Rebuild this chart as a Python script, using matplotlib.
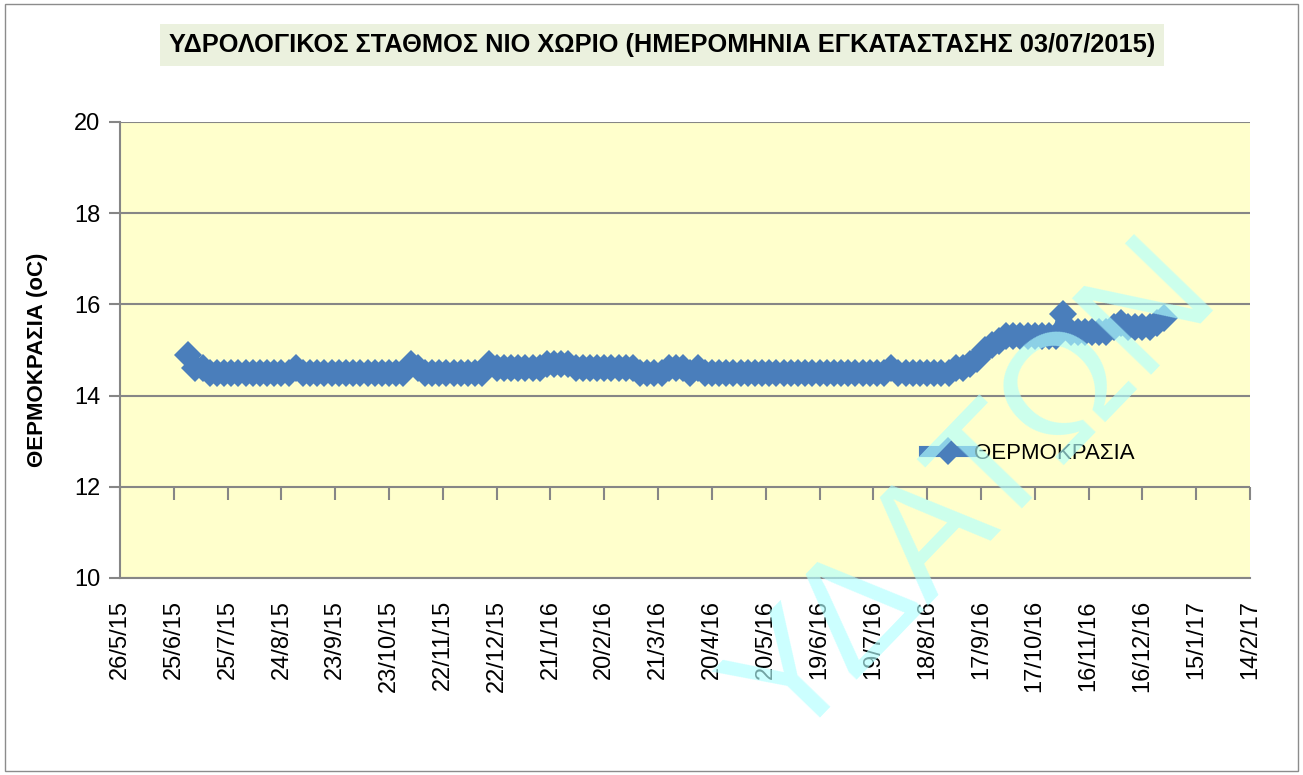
import matplotlib
matplotlib.use('Agg')
import matplotlib.pyplot as plt
import pandas as pd
from matplotlib.patches import Rectangle

plt.rcParams['font.family'] = ['Liberation Sans', 'DejaVu Sans']

# readings every 4 days, starting at the installation date
start_date = '2015-07-03'
step = '4D'
temps = [14.9, 14.6, 14.6,
         14.5, 14.5, 14.5, 14.5, 14.5, 14.5, 14.5, 14.5, 14.5, 14.5, 14.5, 14.5,
         14.6,
         14.5, 14.5, 14.5, 14.5, 14.5, 14.5, 14.5, 14.5, 14.5, 14.5, 14.5, 14.5, 14.5, 14.5, 14.5,
         14.7, 14.6,
         14.5, 14.5, 14.5, 14.5, 14.5, 14.5, 14.5, 14.5, 14.5,
         14.7,
         14.6, 14.6, 14.6, 14.6, 14.6, 14.6, 14.6,
         14.7, 14.7, 14.7, 14.7,
         14.6, 14.6, 14.6, 14.6, 14.6, 14.6, 14.6, 14.6, 14.6,
         14.5, 14.5, 14.5, 14.5,
         14.6, 14.6, 14.6, 14.5, 14.6,
         14.5, 14.5, 14.5, 14.5, 14.5, 14.5, 14.5, 14.5, 14.5, 14.5, 14.5, 14.5, 14.5,
         14.5, 14.5, 14.5, 14.5, 14.5, 14.5, 14.5, 14.5, 14.5, 14.5, 14.5, 14.5, 14.5,
         14.6,
         14.5, 14.5, 14.5, 14.5, 14.5, 14.5, 14.5, 14.5,
         14.6, 14.6, 14.7, 14.8, 15.0, 15.1, 15.2,
         15.3, 15.3, 15.3, 15.3, 15.3, 15.3, 15.3, 15.3,
         15.8,
         15.4, 15.4, 15.4, 15.4, 15.4, 15.4,
         15.5, 15.6, 15.5, 15.5, 15.5, 15.5, 15.6, 15.7]

tick_labels = ['26/5/15', '25/6/15', '25/7/15', '24/8/15', '23/9/15', '23/10/15',
               '22/11/15', '22/12/15', '21/1/16', '20/2/16', '21/3/16', '20/4/16',
               '20/5/16', '19/6/16', '19/7/16', '18/8/16', '17/9/16', '17/10/16',
               '16/11/16', '16/12/16', '15/1/17', '14/2/17']

title = 'ΥΔΡΟΛΟΓΙΚΟΣ ΣΤΑΘΜΟΣ ΝΙΟ ΧΩΡΙΟ (ΗΜΕΡΟΜΗΝΙΑ ΕΓΚΑΤΑΣΤΑΣΗΣ 03/07/2015)'
series_name = 'ΘΕΡΜΟΚΡΑΣΙΑ'
ylabel = 'ΘΕΡΜΟΚΡΑΣΙΑ (oC)'
watermark = 'ΥΔΑΤΩΝ'

dates = pd.date_range(start_date, periods=len(temps), freq=step)
tick_dates = pd.to_datetime(tick_labels, format='%d/%m/%y')

fig = plt.figure(figsize=(13.03, 7.75), dpi=100)
fig.patches.append(Rectangle((0.004, 0.005), 0.992, 0.99, transform=fig.transFigure,
                             fill=False, edgecolor='#8c8c8c', linewidth=1))

ax = fig.add_axes([0.0921, 0.2542, 0.8672, 0.5884])
ax.set_facecolor('#FFFFCC')

ax.plot(dates, temps, color='#4A7EBB', linewidth=8, marker='D', markersize=14,
        markeredgewidth=0, label=series_name, zorder=3)

ax.set_ylim(10, 20)
ax.set_yticks(range(10, 21, 2))
ax.set_xlim(tick_dates[0], tick_dates[-1])
ax.set_xticks(tick_dates)
ax.set_xticklabels(tick_labels, rotation=90)
ax.tick_params(axis='x', length=0, labelsize=17, pad=16)
ax.tick_params(axis='y', length=8, color='#868686', width=1.5, labelsize=17, pad=6)
ax.grid(axis='y', color='#868686', linewidth=1.5)
ax.set_axisbelow(True)
for side in ['top', 'right']:
    ax.spines[side].set_visible(False)
for side in ['left', 'bottom']:
    ax.spines[side].set_color('#868686')
    ax.spines[side].set_linewidth(1.5)

# horizontal axis crosses at 12, tick marks hang from there
sec = ax.secondary_xaxis(0.2)
sec.set_xticks(tick_dates)
sec.tick_params(axis='x', length=9, color='#868686', width=1.5, labelbottom=False, labeltop=False,
                direction='out')
sec.spines['bottom'].set_visible(False)
sec.spines['top'].set_visible(False)

ax.set_ylabel(ylabel, fontsize=16, fontweight='bold')
ax.yaxis.set_label_coords(-0.064, 0.478)

ax.legend(loc='center left', bbox_to_anchor=(0.694, 0.274), frameon=False, fontsize=16,
          handlelength=2.1, handletextpad=0.15, numpoints=1)

fig.text(0.508, 0.942, title, ha='center', va='center', fontsize=18.3, fontweight='bold',
         bbox=dict(boxstyle='square,pad=0.35', facecolor='#EBF1DE', edgecolor='none'))

fig.text(0.748, 0.362, watermark, ha='center', va='center', rotation=46, fontsize=115,
         color='#B1FFFF', alpha=0.65, zorder=10)

fig.savefig('out.png', dpi=100)
